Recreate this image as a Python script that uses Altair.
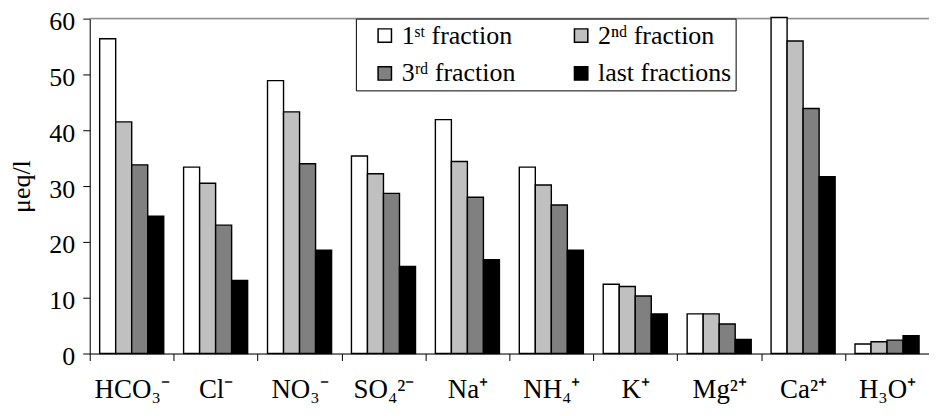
import altair as alt
import pandas as pd

ions = ["HCO₃⁻", "Cl⁻", "NO₃⁻", "SO₄²⁻", "Na⁺", "NH₄⁺", "K⁺", "Mg²⁺", "Ca²⁺", "H₃O⁺"]
fractions = ["1ˢᵗ fraction", "2ⁿᵈ fraction", "3ʳᵈ fraction", "last fractions"]
first = [56.4, 33.4, 48.9, 35.4, 41.9, 33.4, 12.4, 7.1, 60.2, 1.7]
second = [41.5, 30.5, 43.3, 32.2, 34.4, 30.2, 12.0, 7.1, 56.0, 2.1]
third = [33.8, 23.0, 34.0, 28.7, 28.0, 26.6, 10.3, 5.3, 43.9, 2.4]
last = [24.6, 13.1, 18.5, 15.6, 16.8, 18.5, 7.1, 2.5, 31.7, 3.2]
colors = ["#ffffff", "#c0c0c0", "#808080", "#000000"]
y_ticks = [0, 10, 20, 30, 40, 50, 60]

rows = []
for series, name in zip([first, second, third, last], fractions):
    for ion, v in zip(ions, series):
        rows.append({"ion": ion, "fraction": name, "value": v})
df = pd.DataFrame(rows)

FONT = "Liberation Serif"

bars = alt.Chart(df).mark_bar(stroke="black", strokeWidth=1.4).encode(
    x=alt.X("ion:N", sort=ions,
            scale=alt.Scale(paddingInner=0, paddingOuter=0),
            axis=alt.Axis(title=None, labelAngle=0, tickBand="extent",
                          domainColor="black", tickColor="black", tickSize=7,
                          labelPadding=16, labelFontSize=27, labelFont=FONT,
                          labelColor="black")),
    xOffset=alt.XOffset("fraction:N", sort=fractions,
                        scale=alt.Scale(paddingOuter=0.62, paddingInner=0)),
    y=alt.Y("value:Q",
            scale=alt.Scale(domain=[0, 60], nice=False),
            axis=alt.Axis(title="μeq/l", values=y_ticks, grid=False,
                          domainColor="black", tickColor="black", tickSize=7,
                          labelPadding=8, labelOffset=3, labelFontSize=26,
                          labelFont=FONT, labelColor="black",
                          titleFont=FONT, titleFontSize=26,
                          titleFontWeight="normal", titleColor="black",
                          titlePadding=14)),
    color=alt.Color("fraction:N", sort=fractions,
                    scale=alt.Scale(domain=fractions, range=colors),
                    legend=alt.Legend(title=None, orient="none", legendX=267,
                                      legendY=0, columns=2, direction="horizontal",
                                      columnPadding=40,
                                      rowPadding=12, padding=4,
                                      strokeColor="black", fillColor="white",
                                      symbolType="square", symbolSize=180,
                                      symbolOffset=12,
                                      symbolStrokeColor="black",
                                      symbolStrokeWidth=1.5, labelOffset=4,
                                      labelFont=FONT, labelFontSize=26,
                                      labelColor="black", labelLimit=300)),
)

top_line = alt.Chart(pd.DataFrame({"v": [60]})).mark_rule(
    color="#909090", strokeWidth=1.5).encode(y="v:Q")

chart = alt.layer(top_line, bars).properties(
    width=842, height=336,
    autosize=alt.AutoSizeParams(type="none"),
    padding={"left": 82, "top": 10, "right": 0, "bottom": 54},
).configure_view(stroke=None).configure(background="white")

chart.save("out.html", embed_options={"renderer": "svg", "actions": False})
